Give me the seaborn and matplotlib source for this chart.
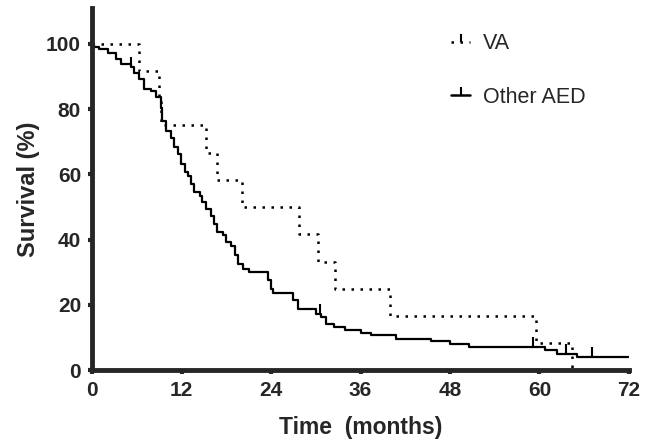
import matplotlib
matplotlib.use("Agg")
import matplotlib.pyplot as plt
import seaborn as sns
from matplotlib.lines import Line2D

# =========================
# DATA
# =========================

va_time = [0, 6.3, 9.0, 9.3, 15.3, 16.8, 20.1, 27.8, 30.3, 32.6, 40.0, 59.6, 64.4]
va_surv = [100, 91.7, 83.3, 75, 66.7, 58.3, 50, 41.7, 33.3, 25, 16.7, 8.3, 0]

aed_time = [0, 0.3, 0.9, 2.1, 3.2, 3.9, 5.2, 5.6, 6.3, 7.0, 7.9, 8.6, 9.2,
            9.4, 9.9, 10.6, 11.0, 11.5, 11.9, 12.4, 12.8, 13.3, 13.7, 14.4,
            14.8, 15.3, 15.9, 16.4, 16.8, 17.5, 18.0, 18.6, 19.1, 19.5, 20.2,
            21.1, 23.6, 24.0, 24.3, 26.9, 27.6, 30.0, 30.7, 31.4, 32.5, 33.9,
            36.1, 37.4, 40.8, 45.5, 48.0, 50.6, 60.8, 62.3, 65.0, 72]
aed_surv = [100, 99.2, 98.4, 97.3, 95.3, 93.8, 92.8, 91.2, 89.2, 86.1, 85.6,
            83.6, 80.5, 76.5, 73.4, 71.3, 68.3, 66.3, 63.2, 60.6, 59.6, 57.1,
            54.5, 53.5, 51.5, 49.4, 47.4, 44.9, 42.3, 41.3, 39.2, 38.2, 35.2,
            32.6, 31.1, 30.1, 27.5, 25.0, 23.6, 21.4, 18.6, 17.3, 16.3, 14.3,
            13.2, 12.4, 11.4, 10.7, 9.7, 9.0, 8.0, 7.1, 6.1, 5.1, 4.1, 4.1]

aed_cens_time = [5.2, 30.5, 59.1, 63.6, 67.0]
aed_cens_surv = [92.8, 17.3, 7.1, 5.1, 4.1]

x_ticks = [0, 12, 24, 36, 48, 60, 72]
y_ticks = [0, 20, 40, 60, 80, 100]

# =========================
# STYLE
# =========================

sns.set_style("ticks")
plt.rcParams['font.family'] = ['Liberation Sans', 'DejaVu Sans']

fig = plt.figure(figsize=(6.49, 4.46), dpi=100)
ax = fig.add_axes([0.142, 0.170, 0.827, 0.812])

# =========================
# CURVES
# =========================

sns.lineplot(x=va_time, y=va_surv, ax=ax, estimator=None, color='black',
             lw=1.8, drawstyle='steps-post')
ax.lines[-1].set_dashes((1, 2.6))

sns.lineplot(x=aed_time, y=aed_surv, ax=ax, estimator=None, color='black',
             lw=1.6, drawstyle='steps-post')

ax.plot(aed_cens_time, aed_cens_surv, ls='none', marker=2, color='black',
        markersize=7, markeredgewidth=1.5)

# =========================
# AXES
# =========================

ax.set_xlim(0, 72)
ax.set_ylim(0, 111)
ax.set_xticks(x_ticks)
ax.set_yticks(y_ticks)
ax.tick_params(length=3, width=3, labelsize=15, pad=5)
for lab in ax.get_xticklabels() + ax.get_yticklabels():
    lab.set_fontweight('bold')

for side in ['top', 'right']:
    ax.spines[side].set_visible(False)
for side in ['left', 'bottom']:
    ax.spines[side].set_linewidth(3.5)

ax.set_xlabel("Time  (months)", fontsize=16.5, fontweight='bold', labelpad=11)
ax.set_ylabel("Survival (%)", fontsize=17, fontweight='bold', labelpad=4)

handles = [
    Line2D([], [], color='black', lw=1.8, ls=(0, (1, 2.6)), marker=2,
           markersize=6, markeredgewidth=1.5),
    Line2D([], [], color='black', lw=1.8, marker=2, markersize=6,
           markeredgewidth=1.5),
]
fig.legend(handles, ["VA", "Other AED"], loc='upper left',
           bbox_to_anchor=(432 / 649, 1 - 14 / 446), frameon=False,
           fontsize=15.5, handlelength=0.85, handletextpad=0.6,
           labelspacing=1.5)

plt.savefig("out.png", dpi=100)
